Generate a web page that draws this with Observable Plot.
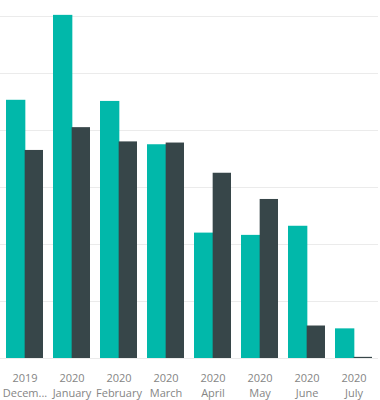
<!DOCTYPE html>
<html>
<head>
<meta charset="utf-8">
<script src="https://cdn.jsdelivr.net/npm/d3@7"></script>
<script src="https://cdn.jsdelivr.net/npm/@observablehq/plot@0.6"></script>
<style>
  html, body { margin: 0; padding: 0; background: #fff; }
  #chart svg { display: block; }
</style>
</head>
<body>
<div id="chart"></div>
<script>
const months = ["2019 December", "2020 January", "2020 February", "2020 March", "2020 April", "2020 May", "2020 June", "2020 July"];
const tickLabels = ["2019\nDecem...", "2020\nJanuary", "2020\nFebruary", "2020\nMarch", "2020\nApril", "2020\nMay", "2020\nJune", "2020\nJuly"];
const seriesNames = ["Series A", "Series B"];
const seriesA = [45.3, 60.2, 45.1, 37.5, 22.0, 21.6, 23.2, 5.2];
const seriesB = [36.5, 40.5, 38.0, 37.8, 32.5, 27.9, 5.7, 0.2];
const yTicks = [0, 10, 20, 30, 40, 50, 60];
const colors = ["#01B8AA", "#374649"];

const dataA = months.map((m, i) => ({month: m, series: seriesNames[0], value: seriesA[i]}));
const dataB = months.map((m, i) => ({month: m, series: seriesNames[1], value: seriesB[i]}));
const labelOf = new Map(months.map((m, i) => [m, tickLabels[i]]));

const W = 380, mL = 0, mR = 2;
const step = (W - mL - mR) / months.length;
const padInner = 0.21;
const half = step * (1 - padInner) / 2;

const chart = Plot.plot({
  width: W,
  height: 400,
  marginTop: 16,
  marginBottom: 42,
  marginLeft: mL,
  marginRight: mR,
  style: {fontFamily: "'Open Sans', sans-serif", fontSize: "11px"},
  x: {domain: months, paddingInner: padInner, paddingOuter: padInner / 2, label: null},
  y: {domain: [0, 60], axis: null},
  color: {domain: seriesNames, range: colors},
  marks: [
    Plot.ruleY(yTicks, {stroke: "#ebebeb", strokeWidth: 1}),
    Plot.barY(dataA, {x: "month", y: "value", fill: "series", insetRight: half - 1}),
    Plot.barY(dataB, {x: "month", y: "value", fill: "series", insetLeft: half}),
    Plot.axisX({tickSize: 0, tickPadding: 13, lineHeight: 1.38, fill: "#858585", fontSize: 11,
                tickFormat: d => labelOf.get(d), label: null})
  ]
});
document.getElementById("chart").appendChild(chart);
</script>
</body>
</html>
